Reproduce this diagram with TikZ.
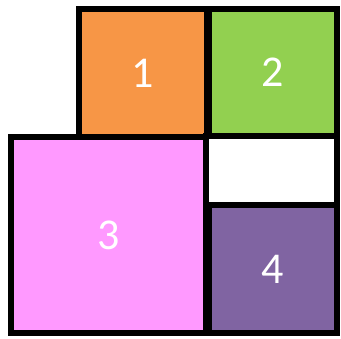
\documentclass[tikz,border=0pt]{standalone}
\usepackage{fontspec}
\setmainfont{Carlito}
\usepackage{tikz}
\usetikzlibrary{positioning}

\definecolor{tileorange}{HTML}{F79646}
\definecolor{tilegreen}{HTML}{92D050}
\definecolor{tilepink}{HTML}{FF99FF}
\definecolor{tilepurple}{HTML}{8064A2}

\begin{document}
\begin{tikzpicture}[
        x=1pt, y=-1pt,
        tile/.style={draw=black, line width=6pt, rectangle, inner sep=0pt,
            text=white, font=\fontsize{44}{44}\selectfont}
    ]
    \useasboundingbox (0,0) rectangle (341,339);

    %================================================
    % Top row: tiles 1 and 2
    %================================================
    \node[tile, fill=tileorange, minimum width=128pt, minimum height=128pt] (T1) at (143,73) {1};
    \node[tile, fill=tilegreen, minimum width=128pt, minimum height=127pt] (T2) at (273,72.5) {2};

    %================================================
    % Bottom: big tile 3, empty slot, tile 4
    %================================================
    \node[tile, fill=tilepink, minimum width=195.5pt, minimum height=196.5pt] (T3) at (108.25,235.25) {3};
    \node[tile, fill=white, minimum width=131pt, minimum height=69.5pt] (E) at (271.5,170.75) {};
    \node[tile, fill=tilepurple, minimum width=128pt, minimum height=128pt] (T4) at (273,269.5) {4};

\end{tikzpicture}
\end{document}
